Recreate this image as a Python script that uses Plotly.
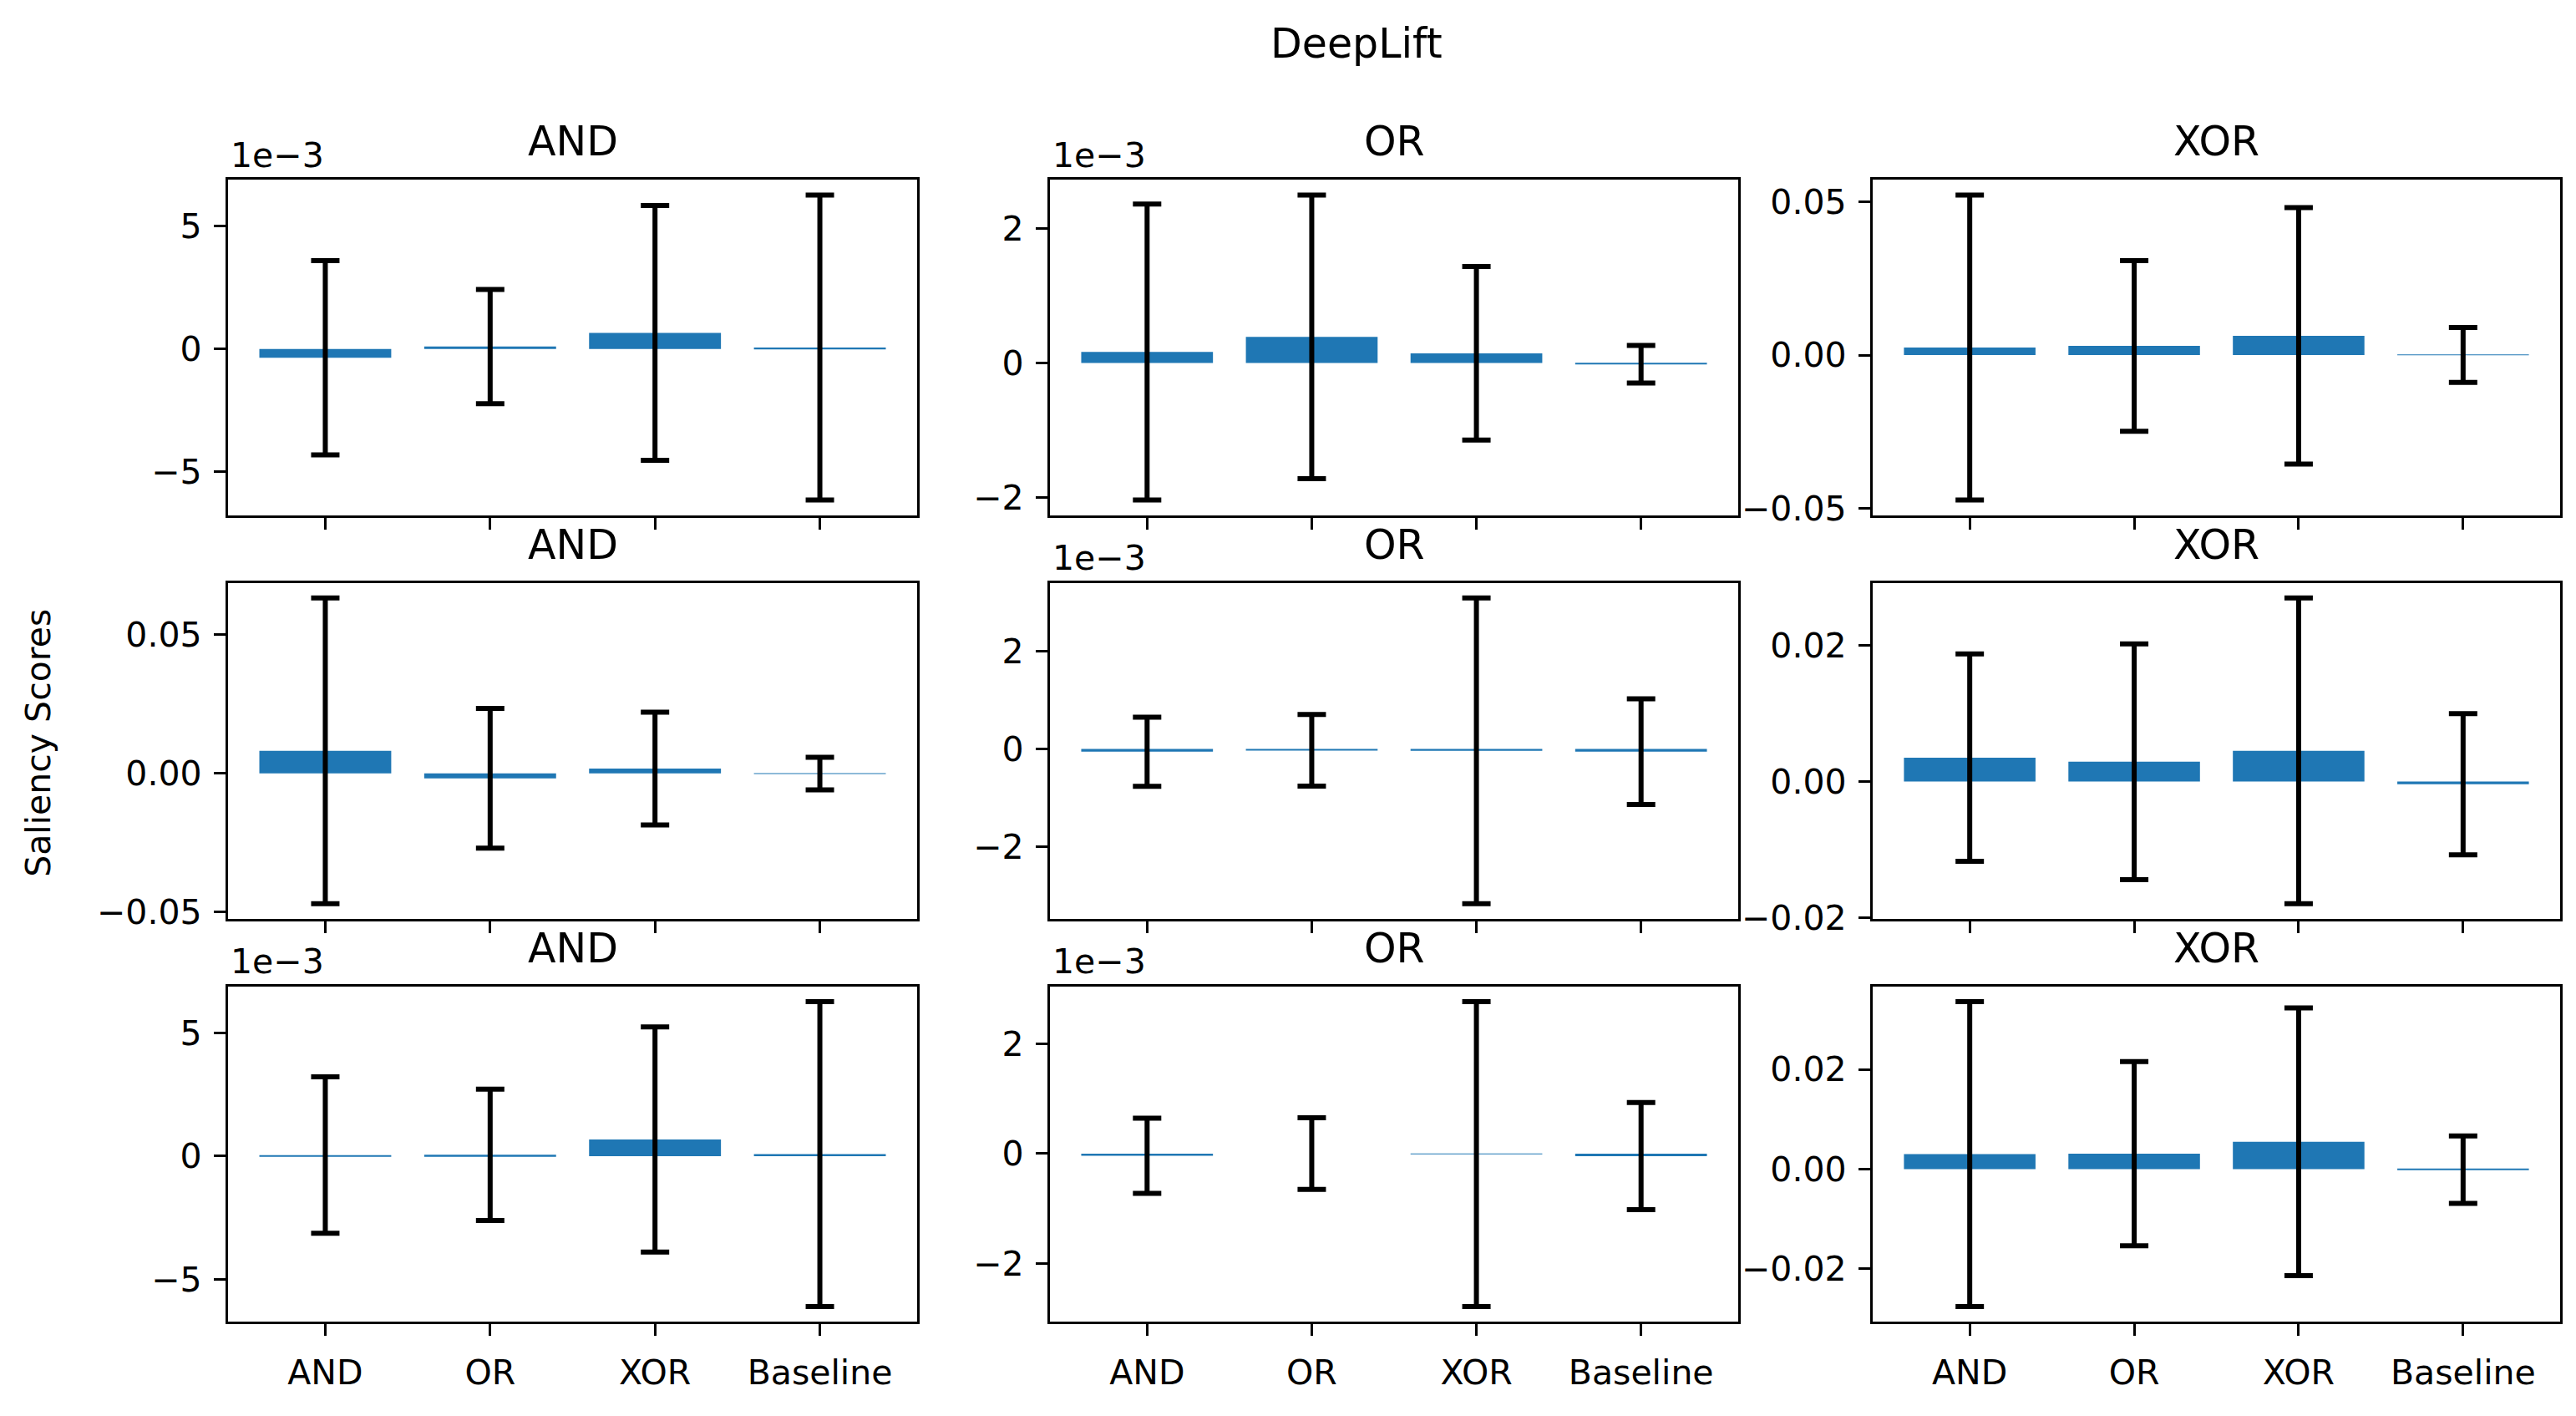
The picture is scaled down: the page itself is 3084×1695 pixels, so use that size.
import plotly.graph_objects as go

# ---------------- data ----------------
categories = ["AND", "OR", "XOR", "Baseline"]
col_titles = ["AND", "OR", "XOR"]
suptitle = "DeepLift"
ylabel = "Saliency Scores"

# row 1
r1_and_mean = [-0.36e-3, 0.095e-3, 0.65e-3, 0.06e-3]
r1_and_std = [3.955e-3, 2.33e-3, 5.19e-3, 6.21e-3]
r1_or_mean = [0.165e-3, 0.39e-3, 0.145e-3, -0.018e-3]
r1_or_std = [2.2e-3, 2.11e-3, 1.29e-3, 0.28e-3]
r1_xor_mean = [0.0025, 0.0030, 0.0063, 0.00005]
r1_xor_std = [0.0497, 0.0278, 0.0418, 0.00895]
# row 2
r2_and_mean = [0.0081, -0.0018, 0.0017, -0.0001]
r2_and_std = [0.0550, 0.02515, 0.0203, 0.00585]
r2_or_mean = [-0.055e-3, -0.028e-3, -0.037e-3, -0.054e-3]
r2_or_std = [0.707e-3, 0.732e-3, 3.124e-3, 1.079e-3]
r2_xor_mean = [0.0035, 0.0029, 0.0045, -0.0004]
r2_xor_std = [0.01523, 0.0173, 0.02243, 0.01035]
# row 3
r3_and_mean = [0.045e-3, 0.055e-3, 0.68e-3, 0.08e-3]
r3_and_std = [3.175e-3, 2.665e-3, 4.57e-3, 6.19e-3]
r3_or_mean = [-0.04e-3, 0.0, -0.01e-3, -0.045e-3]
r3_or_std = [0.684e-3, 0.652e-3, 2.776e-3, 0.975e-3]
r3_xor_mean = [0.0030, 0.0031, 0.0055, -0.00009]
r3_xor_std = [0.03057, 0.01846, 0.02685, 0.00676]

# tick values / labels
ticks_5e3 = [-5e-3, 0, 5e-3]
labels_5e3 = ["\u22125", "0", "5"]
ticks_2e3 = [-2e-3, 0, 2e-3]
labels_2e3 = ["\u22122", "0", "2"]
ticks_05 = [-0.05, 0, 0.05]
labels_05 = ["\u22120.05", "0.00", "0.05"]
ticks_02 = [-0.02, 0, 0.02]
labels_02 = ["\u22120.02", "0.00", "0.02"]
offset_label = "1e\u22123"

panels = [
    (r1_and_mean, r1_and_std, ticks_5e3, labels_5e3, True),
    (r1_or_mean, r1_or_std, ticks_2e3, labels_2e3, True),
    (r1_xor_mean, r1_xor_std, ticks_05, labels_05, False),
    (r2_and_mean, r2_and_std, ticks_05, labels_05, False),
    (r2_or_mean, r2_or_std, ticks_2e3, labels_2e3, True),
    (r2_xor_mean, r2_xor_std, ticks_02, labels_02, False),
    (r3_and_mean, r3_and_std, ticks_5e3, labels_5e3, True),
    (r3_or_mean, r3_or_std, ticks_2e3, labels_2e3, True),
    (r3_xor_mean, r3_xor_std, ticks_02, labels_02, False),
]

# ---------------- layout geometry ----------------
W, H = 3084, 1695
col_px = [(265, 1090), (1249, 2073), (2234, 3057)]
row_px = [(210, 617), (699, 1107), (1189, 1596)]
FONT = "DejaVu Sans"
TICK_FS = 41
TITLE_FS = 49
LW = 3.3
BAR_COLOR = "#1f77b4"

fig = go.Figure()
layout = dict(
    width=W, height=H,
    margin=dict(l=0, r=0, t=0, b=0),
    paper_bgcolor="white", plot_bgcolor="white",
    showlegend=False,
    font=dict(family=FONT, color="black", size=TICK_FS),
)
annotations = []

for i, (mean, std, tv, tt, has_offset) in enumerate(panels):
    r, c = divmod(i, 3)
    n = i + 1
    xs = "" if n == 1 else str(n)
    x0, x1 = col_px[c]
    yt, yb = row_px[r]

    lo = min(0, min(m - s for m, s in zip(mean, std)))
    hi = max(0, max(m + s for m, s in zip(mean, std)))
    pad = 0.05 * (hi - lo)

    fig.add_trace(go.Bar(
        x=categories, y=mean, width=0.8,
        marker=dict(color=BAR_COLOR, line=dict(width=0)),
        error_y=dict(type="data", array=std, visible=True, color="black",
                     thickness=6, width=17),
        xaxis="x" + xs, yaxis="y" + xs, hoverinfo="skip",
    ))

    layout["xaxis" + xs] = dict(
        domain=[x0 / W, x1 / W], anchor="y" + xs, type="category",
        range=[-0.59, 3.59], showgrid=False, zeroline=False,
        showline=True, mirror=True, linecolor="black", linewidth=LW,
        ticks="outside", ticklen=14, tickwidth=LW, tickcolor="black",
        showticklabels=(r == 2), ticklabelstandoff=8,
        tickfont=dict(family=FONT, size=TICK_FS, color="black"),
    )
    layout["yaxis" + xs] = dict(
        domain=[1 - yb / H, 1 - yt / H], anchor="x" + xs,
        range=[lo - pad, hi + pad], showgrid=False, zeroline=False,
        showline=True, mirror=True, linecolor="black", linewidth=LW,
        ticks="outside", ticklen=14, tickwidth=LW, tickcolor="black",
        tickmode="array", tickvals=tv, ticktext=tt, ticklabelstandoff=6,
        tickfont=dict(family=FONT, size=TICK_FS, color="black"),
    )

    # subplot title
    annotations.append(dict(
        text=col_titles[c], xref="paper", yref="paper",
        x=(x0 + x1) / 2 / W, y=1 - (yt - 46) / H,
        xanchor="center", yanchor="middle", showarrow=False,
        font=dict(family=FONT, size=TITLE_FS, color="black"),
    ))
    if has_offset:
        annotations.append(dict(
            text=offset_label, xref="paper", yref="paper",
            x=(x0 + 1) / W, y=1 - (yt - 30) / H,
            xanchor="left", yanchor="middle", showarrow=False,
            font=dict(family=FONT, size=TICK_FS, color="black"),
        ))

# suptitle
annotations.append(dict(
    text=suptitle, xref="paper", yref="paper",
    x=1616 / W, y=1 - 45 / H, xanchor="center", yanchor="middle",
    showarrow=False, font=dict(family=FONT, size=TITLE_FS, color="black"),
))
# y label
annotations.append(dict(
    text=ylabel, xref="paper", yref="paper",
    x=38 / W, y=1 - 894 / H, xanchor="center", yanchor="middle",
    textangle=-90, showarrow=False,
    font=dict(family=FONT, size=TICK_FS, color="black"),
))

layout["annotations"] = annotations
fig.update_layout(**layout)
fig.write_html("out.html")
